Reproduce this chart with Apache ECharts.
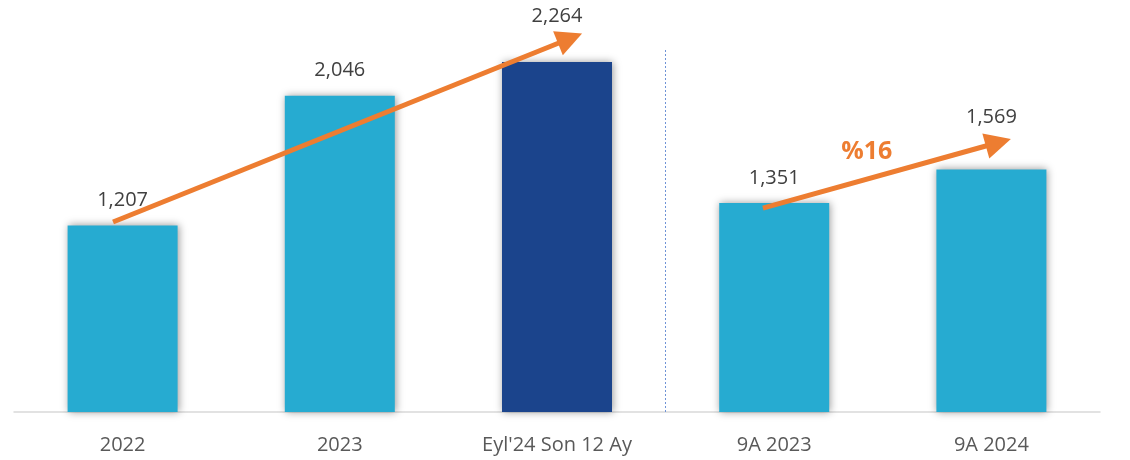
<!DOCTYPE html>
<html>
<head>
<meta charset="utf-8">
<style>
  html, body { margin: 0; padding: 0; background: #fff; }
  #chart { width: 1130px; height: 460px; }
</style>
<script src="https://cdn.jsdelivr.net/npm/echarts@6/dist/echarts.min.js"></script>
</head>
<body>
<div id="chart"></div>
<script>
const categories = ['2022', '2023', "Eyl'24 Son 12 Ay", '9A 2023', '9A 2024'];
const values = [1207, 2046, 2264, 1351, 1569];
// arrow annotations, in (category position, value) units
const arrowOne = [[-0.044, 1229], [2.06, 2416]];
const arrowTwo = [[2.948, 1319], [4.032, 1743]];
const growthText = '%16';
const growthAt = [3.426, 1683];
const dividerAt = [[2.5, 0], [2.5, 2354]];

const lightBlue = '#26ABD1';
const darkBlue = '#1B448C';
const orange = '#ED7D31';
const font = '"Open Sans", "Noto Sans", sans-serif';

const chart = echarts.init(document.getElementById('chart'));

// labels sitting under the arrows are lifted a bit
const labelLift = { 2: 36, 4: 42 };

const barData = values.map((v, i) => ({
    value: v,
    itemStyle: { color: i === 2 ? darkBlue : lightBlue },
    label: { distance: labelLift[i] || 15 }
}));

const arrowLine = (pts) => [
    { coord: pts[0], symbol: 'none' },
    { coord: pts[1], symbol: 'triangle', symbolSize: 26 }
];

const option = {
    animation: false,
    grid: { left: 14, right: 30, top: 10, bottom: 48 },
    xAxis: [
        {
            type: 'category',
            data: categories,
            axisLine: { lineStyle: { color: '#d9d9d9', width: 1.5 } },
            axisTick: { show: false },
            axisLabel: { color: '#595959', fontSize: 20, fontFamily: font, margin: 23 }
        },
        {
            type: 'value',
            min: -0.5,
            max: 4.5,
            show: false
        }
    ],
    yAxis: {
        type: 'value',
        min: 0,
        max: 2600,
        show: false,
        splitLine: { show: false }
    },
    series: [
        {
            type: 'bar',
            xAxisIndex: 0,
            data: barData,
            barWidth: 110,
            itemStyle: {
                shadowBlur: 8,
                shadowColor: 'rgba(0,0,0,0.4)',
                shadowOffsetX: 1,
                shadowOffsetY: 0
            },
            label: {
                show: true,
                position: 'top',
                color: '#404040',
                fontSize: 20,
                fontFamily: font,
                formatter: (p) => p.value.toLocaleString('en-US')
            },
            emphasis: { disabled: true }
        },
        {
            type: 'line',
            xAxisIndex: 1,
            data: [],
            silent: true,
            markLine: {
                silent: true,
                label: { show: false },
                emphasis: { disabled: true },
                lineStyle: { color: orange, width: 5, type: 'solid' },
                data: [
                    arrowLine(arrowOne),
                    arrowLine(arrowTwo),
                    [
                        { coord: dividerAt[0], symbol: 'none', lineStyle: { color: '#6F93D6', width: 1, type: [2, 2] } },
                        { coord: dividerAt[1], symbol: 'none' }
                    ]
                ]
            },
            markPoint: {
                silent: true,
                symbol: 'circle',
                symbolSize: 1,
                itemStyle: { color: 'rgba(0,0,0,0)' },
                label: {
                    show: true,
                    position: 'inside',
                    formatter: growthText,
                    color: orange,
                    fontSize: 25,
                    fontWeight: 'bold',
                    fontFamily: font
                },
                data: [{ coord: growthAt }]
            }
        }
    ]
};

chart.setOption(option);
</script>
</body>
</html>
